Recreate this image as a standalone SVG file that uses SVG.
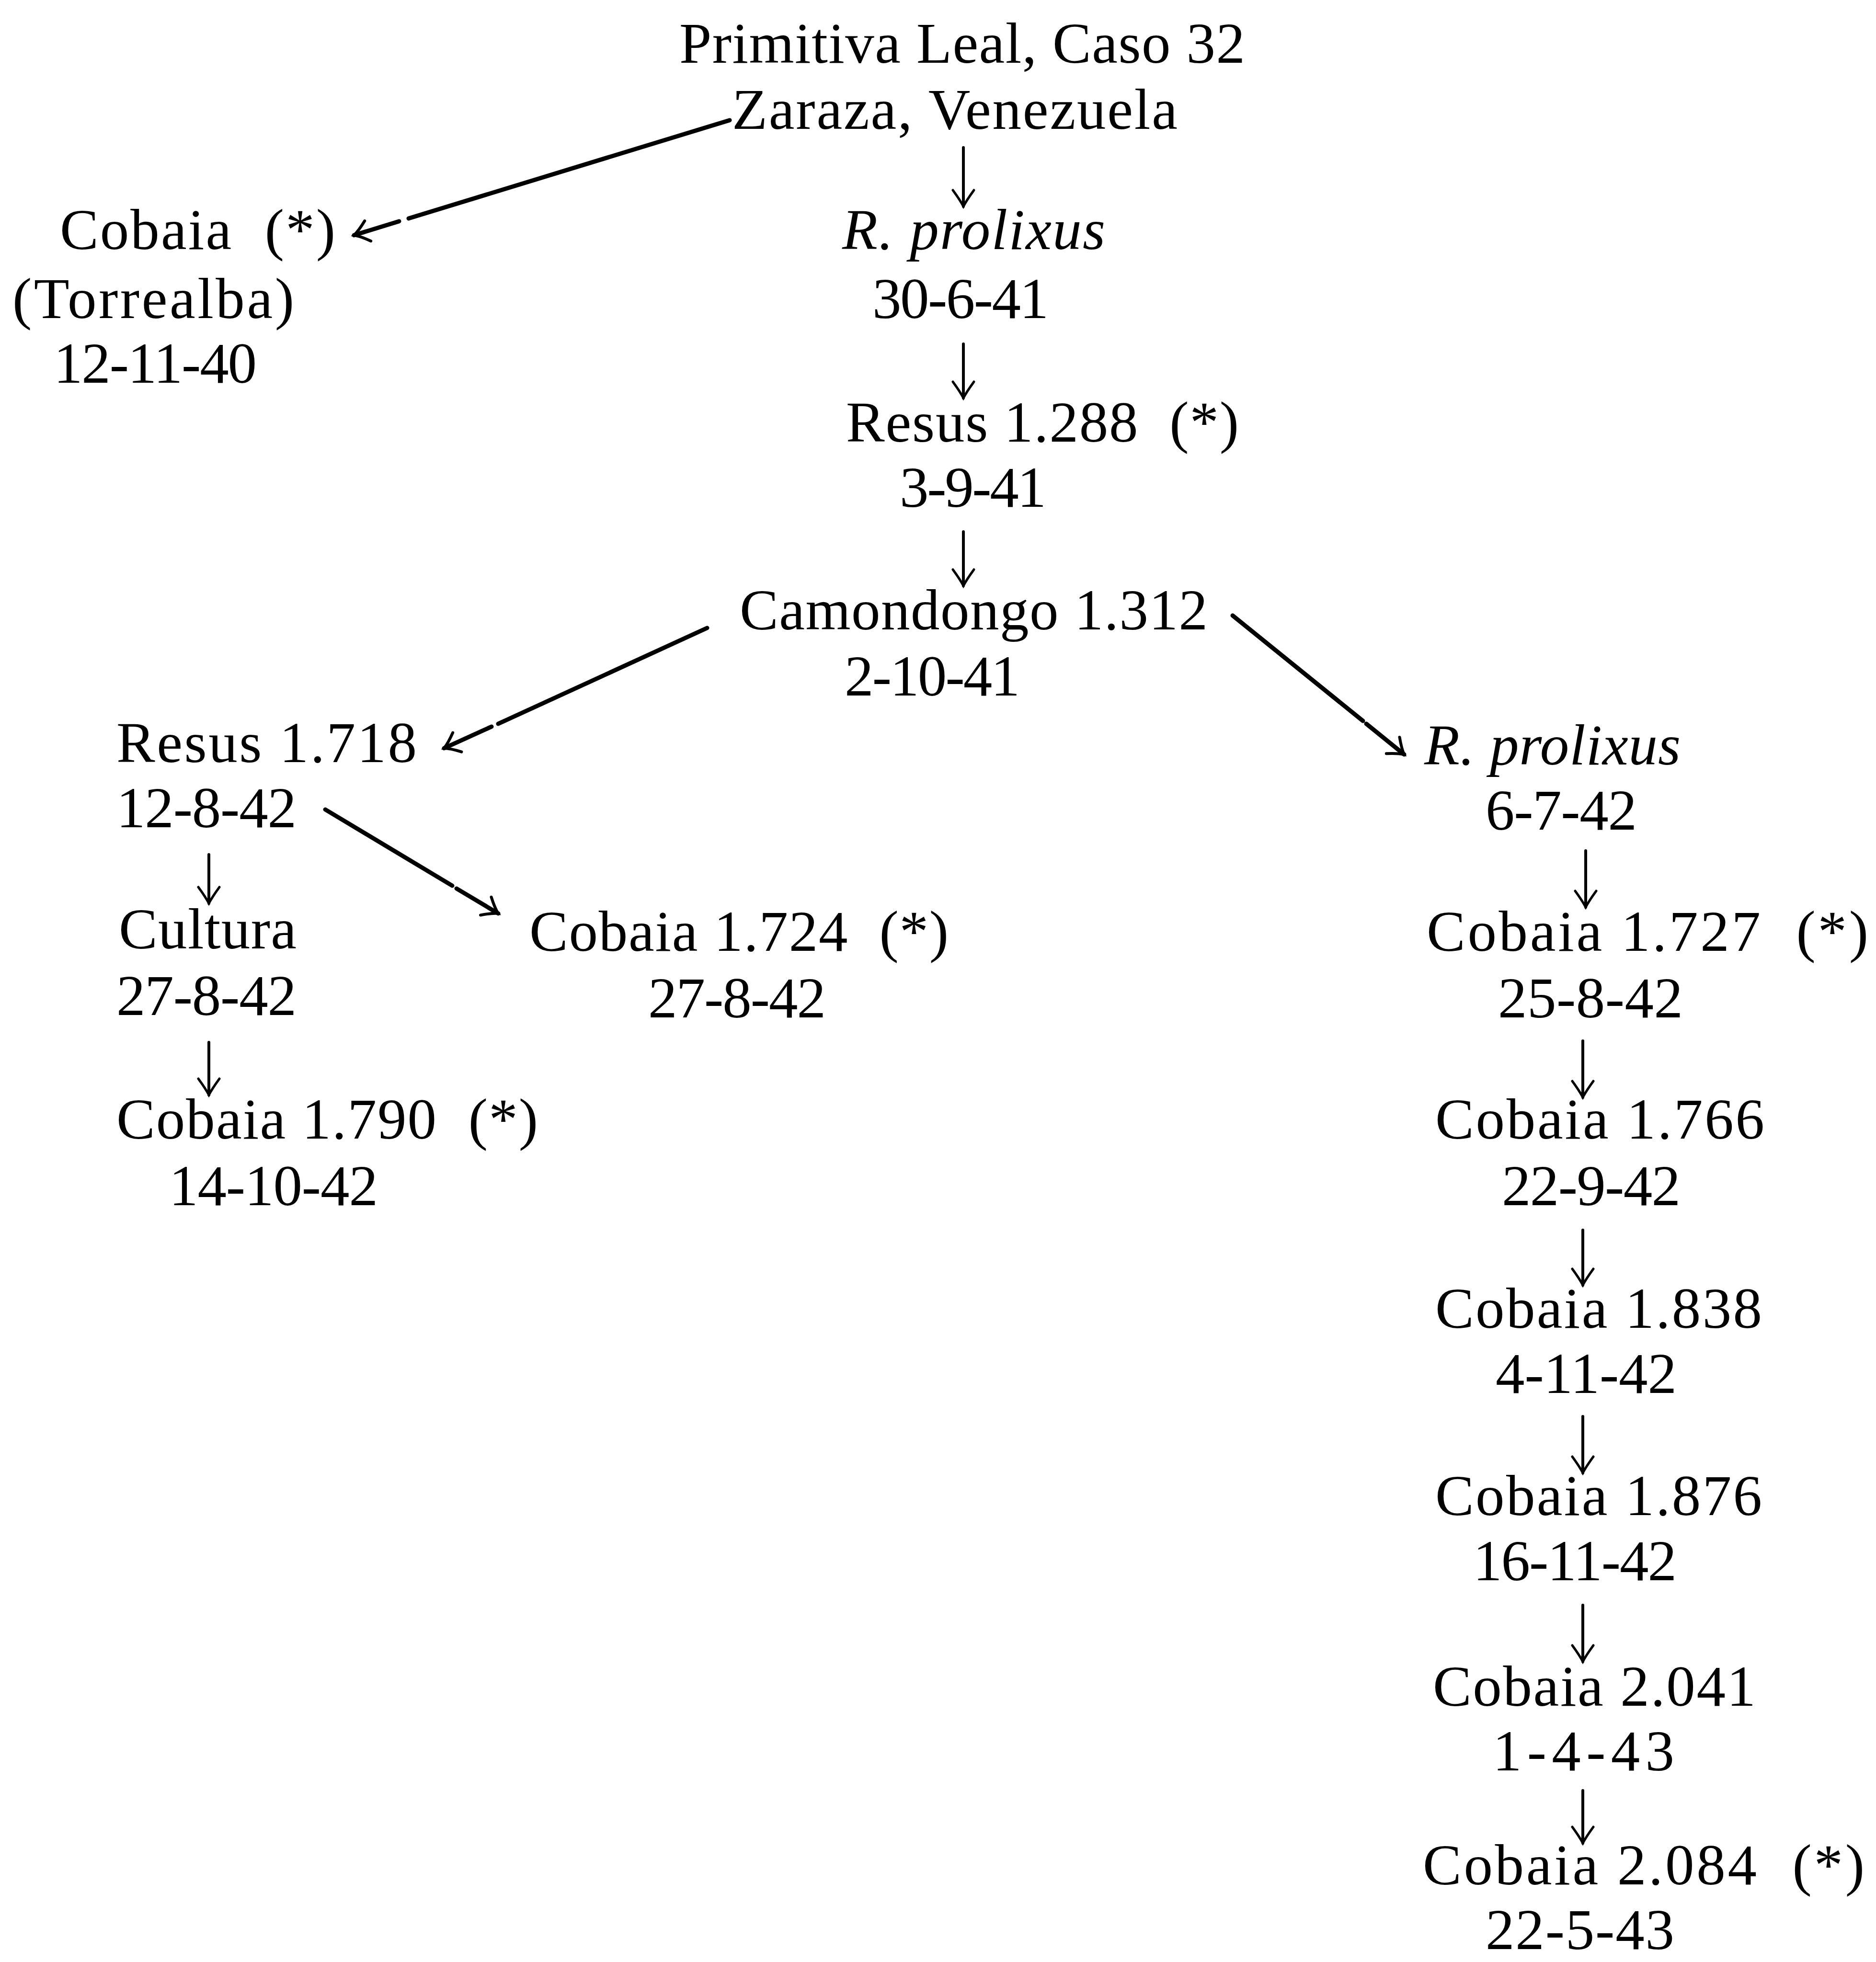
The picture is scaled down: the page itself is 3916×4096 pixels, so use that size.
<svg xmlns="http://www.w3.org/2000/svg" width="3916" height="4096" viewBox="0 0 3916 4096">
<style>
text{font-family:"Liberation Serif","Times New Roman",serif;font-size:121px;fill:#000}
.it{font-style:italic}
.v{stroke:#000;stroke-width:6;fill:none;stroke-linecap:round}
.d{stroke:#000;stroke-width:9;fill:none;stroke-linecap:round}
</style>
<defs>
<marker id="vh" markerUnits="userSpaceOnUse" viewBox="-40 -26 46 52" markerWidth="46" markerHeight="52" refX="0" refY="0" orient="auto" overflow="visible">
<path d="M-34,-22 Q-12,-6 0,0 Q-12,6 -34,22" fill="none" stroke="#000" stroke-width="5" stroke-linecap="round"/>
</marker>
<marker id="dh" markerUnits="userSpaceOnUse" viewBox="-40 -26 46 52" markerWidth="46" markerHeight="52" refX="0" refY="0" orient="auto" overflow="visible">
<path d="M-30,-22 Q-12,-6 0,0 Q-12,6 -30,22" fill="none" stroke="#000" stroke-width="6" stroke-linecap="round"/>
</marker>
</defs>
<rect width="3916" height="4096" fill="#fff"/>

<g id="connectors">
<path class="v" d="M2011,308 L2011,431" marker-end="url(#vh)"/>
<path class="v" d="M2011,718 L2011,831" marker-end="url(#vh)"/>
<path class="v" d="M2011,1110 L2011,1223" marker-end="url(#vh)"/>
<path class="v" d="M436,1784 L436,1886" marker-end="url(#vh)"/>
<path class="v" d="M436,2176 L436,2286" marker-end="url(#vh)"/>
<path class="v" d="M3310,1776 L3310,1894" marker-end="url(#vh)"/>
<path class="v" d="M3304,2173 L3304,2291" marker-end="url(#vh)"/>
<path class="v" d="M3304,2568 L3304,2683" marker-end="url(#vh)"/>
<path class="v" d="M3304,2957 L3304,3075" marker-end="url(#vh)"/>
<path class="v" d="M3304,3351 L3304,3469" marker-end="url(#vh)"/>
<path class="v" d="M3304,3738 L3304,3848" marker-end="url(#vh)"/>
<path class="d" d="M1523,251 L853,456"/>
<path class="d" d="M833,462 L739,491" marker-end="url(#dh)"/>
<path class="d" d="M1476,1311 L1040,1511"/>
<path class="d" d="M1026,1517 L927,1562" marker-end="url(#dh)"/>
<path class="d" d="M2573,1285 L2845,1505"/>
<path class="d" d="M2852,1511 L2931,1575" marker-end="url(#dh)"/>
<path class="d" d="M679,1690 L944,1849"/>
<path class="d" d="M953,1855 L1040,1907" marker-end="url(#dh)"/>
</g>

<g id="n-origin">
<text x="1418" y="131" textLength="1181" lengthAdjust="spacing">Primitiva Leal, Caso 32</text>
<text x="1528" y="269" textLength="930" lengthAdjust="spacing">Zaraza, Venezuela</text>
</g>
<g id="n-cobaia-torrealba">
<text x="125" y="520" textLength="575" lengthAdjust="spacing" xml:space="preserve">Cobaia  (*)</text>
<text x="26" y="664" textLength="588" lengthAdjust="spacing">(Torrealba)</text>
<text x="112" y="799" textLength="424" lengthAdjust="spacing">12-11-40</text>
</g>
<g id="n-prolixus-1">
<text class="it" x="1758" y="520" textLength="549" lengthAdjust="spacing">R. prolixus</text>
<text x="1821" y="664" textLength="368" lengthAdjust="spacing">30-6-41</text>
</g>
<g id="n-resus-1288">
<text x="1766" y="922" textLength="820" lengthAdjust="spacing" xml:space="preserve">Resus 1.288  (*)</text>
<text x="1878" y="1058" textLength="306" lengthAdjust="spacing">3-9-41</text>
</g>
<g id="n-camondongo-1312">
<text x="1544" y="1314" textLength="977" lengthAdjust="spacing">Camondongo 1.312</text>
<text x="1763" y="1452" textLength="366" lengthAdjust="spacing">2-10-41</text>
</g>
<g id="n-resus-1718">
<text x="243" y="1591" textLength="627" lengthAdjust="spacing">Resus 1.718</text>
<text x="243" y="1727" textLength="376" lengthAdjust="spacing">12-8-42</text>
</g>
<g id="n-cultura">
<text x="248" y="1980" textLength="371" lengthAdjust="spacing">Cultura</text>
<text x="243" y="2119" textLength="376" lengthAdjust="spacing">27-8-42</text>
</g>
<g id="n-cobaia-1790">
<text x="243" y="2377" textLength="880" lengthAdjust="spacing" xml:space="preserve">Cobaia 1.790  (*)</text>
<text x="353" y="2516" textLength="436" lengthAdjust="spacing">14-10-42</text>
</g>
<g id="n-cobaia-1724">
<text x="1105" y="1985" textLength="875" lengthAdjust="spacing" xml:space="preserve">Cobaia 1.724  (*)</text>
<text x="1353" y="2124" textLength="371" lengthAdjust="spacing">27-8-42</text>
</g>
<g id="n-prolixus-2">
<text class="it" x="2973" y="1596" textLength="535" lengthAdjust="spacing">R. prolixus</text>
<text x="3101" y="1732" textLength="316" lengthAdjust="spacing">6-7-42</text>
</g>
<g id="n-cobaia-1727">
<text x="2978" y="1985" textLength="922" lengthAdjust="spacing" xml:space="preserve">Cobaia 1.727  (*)</text>
<text x="3127" y="2124" textLength="386" lengthAdjust="spacing">25-8-42</text>
</g>
<g id="n-cobaia-1766">
<text x="2996" y="2377" textLength="687" lengthAdjust="spacing">Cobaia 1.766</text>
<text x="3135" y="2516" textLength="373" lengthAdjust="spacing">22-9-42</text>
</g>
<g id="n-cobaia-1838">
<text x="2996" y="2772" textLength="682" lengthAdjust="spacing">Cobaia 1.838</text>
<text x="3122" y="2908" textLength="378" lengthAdjust="spacing">4-11-42</text>
</g>
<g id="n-cobaia-1876">
<text x="2996" y="3163" textLength="682" lengthAdjust="spacing">Cobaia 1.876</text>
<text x="3075" y="3299" textLength="425" lengthAdjust="spacing">16-11-42</text>
</g>
<g id="n-cobaia-2041">
<text x="2991" y="3561" textLength="674" lengthAdjust="spacing">Cobaia 2.041</text>
<text x="3116" y="3696" textLength="379" lengthAdjust="spacing">1-4-43</text>
</g>
<g id="n-cobaia-2084">
<text x="2970" y="3934" textLength="922" lengthAdjust="spacing" xml:space="preserve">Cobaia 2.084  (*)</text>
<text x="3101" y="4069" textLength="394" lengthAdjust="spacing">22-5-43</text>
</g>
</svg>
